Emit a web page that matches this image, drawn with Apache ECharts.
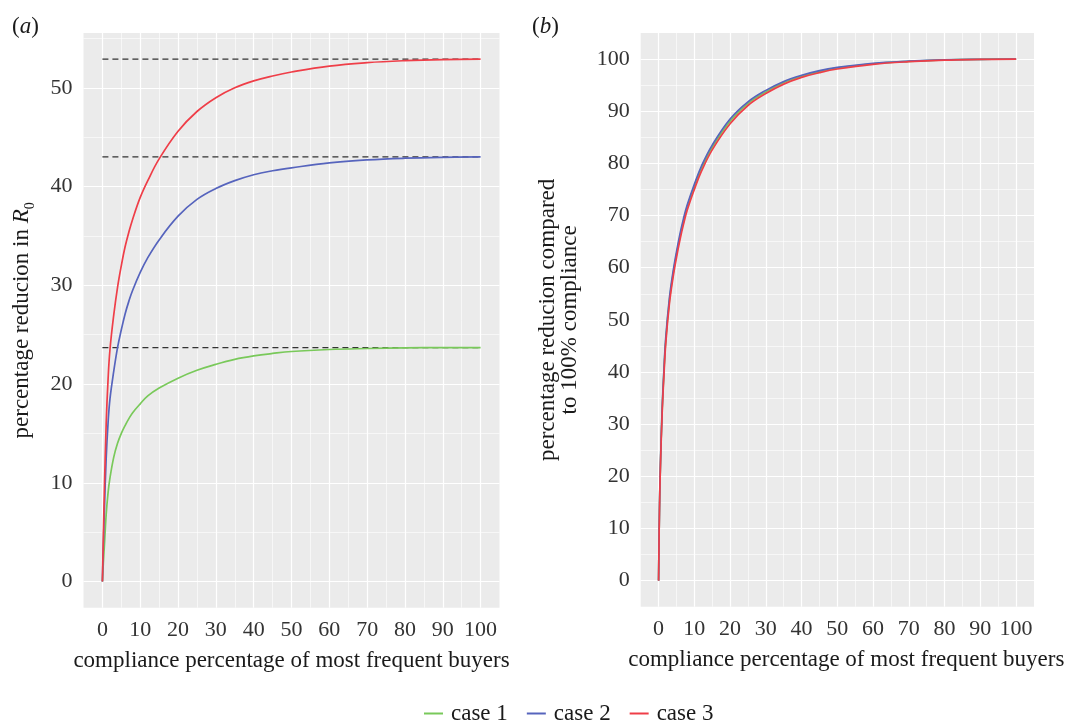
<!DOCTYPE html>
<html><head><meta charset="utf-8">
<script src="https://cdn.jsdelivr.net/npm/echarts@6/dist/echarts.min.js"></script>
<style>html,body{margin:0;padding:0;background:#fff}#c{width:1066px;height:720px}</style>
</head><body><div id="c"></div>
<script>
// ---- data ----
const xs = [0, 0.25, 0.5, 1, 1.5, 2, 3, 4, 5, 6, 7, 8, 10, 12, 15, 20, 25, 30, 35, 40, 45, 50, 60, 70, 80, 90, 100];
const caseNames = ['case 1', 'case 2', 'case 3'];
// panel (a): percentage reduction in R0
const aCase1 = [0, 1.9, 3.5, 6.8, 9.0, 10.5, 12.6, 14.0, 15.0, 15.8, 16.5, 17.1, 18.0, 18.8, 19.6, 20.6, 21.4, 22.0, 22.5, 22.85, 23.1, 23.3, 23.5, 23.6, 23.67, 23.7, 23.7];
const aCase2 = [0, 3.7, 6.9, 12.5, 16.1, 18.5, 21.3, 23.7, 25.5, 27.1, 28.4, 29.5, 31.3, 32.8, 34.6, 37.0, 38.7, 39.8, 40.6, 41.2, 41.6, 41.9, 42.4, 42.7, 42.87, 42.96, 43.0];
const aCase3 = [0, 4.7, 9.0, 16.0, 20.5, 23.5, 27.0, 29.8, 32.0, 33.9, 35.4, 36.7, 38.9, 40.6, 42.8, 45.6, 47.6, 49.0, 50.0, 50.7, 51.2, 51.6, 52.2, 52.55, 52.75, 52.86, 52.9];
const aMax = [23.7, 43.0, 52.9];
// panel (b): percentage reduction compared to 100% compliance
const bCase1 = [0, 13.8, 21.7, 32.6, 40.0, 46.0, 53.5, 58.5, 62.5, 66.0, 69.0, 71.6, 75.6, 79.1, 83.1, 88.1, 91.5, 93.7, 95.5, 96.7, 97.6, 98.3, 99.1, 99.55, 99.83, 99.95, 100];
const bCase2 = [0, 14.0, 22.0, 33.0, 40.5, 46.5, 54.0, 59.0, 63.0, 66.5, 69.5, 72.0, 76.0, 79.5, 83.5, 88.5, 91.8, 94.0, 95.7, 96.9, 97.8, 98.4, 99.2, 99.6, 99.85, 99.95, 100];
const bCase3 = [0, 13.5, 21.3, 32.1, 39.4, 45.4, 52.9, 57.9, 61.9, 65.4, 68.4, 71.0, 75.0, 78.5, 82.6, 87.6, 91.1, 93.4, 95.2, 96.5, 97.4, 98.1, 99.0, 99.5, 99.8, 99.93, 100];
// ticks / gridlines
const xTicks = [0, 10, 20, 30, 40, 50, 60, 70, 80, 90, 100];
const xMinor = [5, 15, 25, 35, 45, 55, 65, 75, 85, 95];
const yTicksA = [0, 10, 20, 30, 40, 50];
const yMinorA = [5, 15, 25, 35, 45, 55];
const yTicksB = [0, 10, 20, 30, 40, 50, 60, 70, 80, 90, 100];
const yMinorB = [5, 15, 25, 35, 45, 55, 65, 75, 85, 95];

// ---- styling ----
const FONT = '"Liberation Serif", "DejaVu Serif", serif';
const colors = ['#79c95a', '#5664bd', '#ef3e48'];
const tickColor = '#333333';
const titleColor = '#1a1a1a';

function pairs(arr) { return xs.map((x, i) => [x, arr[i]]); }

function gridSeries(idx, xMaj, xMin, yMaj, yMin) {
  const d = [];
  xMin.forEach(v => d.push({ xAxis: v, lineStyle: { width: 0.6 } }));
  yMin.forEach(v => d.push({ yAxis: v, lineStyle: { width: 0.6 } }));
  xMaj.forEach(v => d.push({ xAxis: v, lineStyle: { width: 1.2 } }));
  yMaj.forEach(v => d.push({ yAxis: v, lineStyle: { width: 1.2 } }));
  return {
    type: 'line', xAxisIndex: idx, yAxisIndex: idx, data: [], z: 1, silent: true,
    markLine: {
      silent: true, symbol: 'none', z: 1, animation: false,
      label: { show: false }, emphasis: { disabled: true },
      lineStyle: { color: '#ffffff', type: 'solid' },
      data: d
    }
  };
}

function xAxisCfg(idx, padLeft) {
  return {
    type: 'value', gridIndex: idx, min: -5, max: 105,
    axisLine: { show: false },
    axisTick: { show: true, customValues: xTicks, length: 4, lineStyle: { color: tickColor, width: 1 } },
    axisLabel: { customValues: xTicks, fontSize: 22, color: tickColor, fontFamily: FONT, margin: 12 },
    splitLine: { show: false },
    name: 'compliance percentage of most frequent buyers',
    nameLocation: 'middle', nameGap: 42,
    nameTextStyle: { fontSize: 23, color: titleColor, fontFamily: FONT, padding: [0, 0, 0, padLeft] }
  };
}

const series = [gridSeries(0, xTicks, xMinor, yTicksA, yMinorA), gridSeries(1, xTicks, xMinor, yTicksB, yMinorB)];
// dashed reference lines (panel a)
aMax.forEach(m => series.push({
  type: 'line', xAxisIndex: 0, yAxisIndex: 0, data: [[0, m], [100, m]], symbol: 'none', z: 2,
  lineStyle: { color: '#333333', width: 1.3, type: [6, 4] }, silent: true
}));
[aCase1, aCase2, aCase3].forEach((arr, i) => series.push({
  name: caseNames[i], type: 'line', xAxisIndex: 0, yAxisIndex: 0, data: pairs(arr),
  symbol: 'none', smooth: 0.4, z: 3,
  lineStyle: { color: colors[i], width: 1.7 }, itemStyle: { color: colors[i] }
}));
[bCase1, bCase2, bCase3].forEach((arr, i) => series.push({
  name: caseNames[i], type: 'line', xAxisIndex: 1, yAxisIndex: 1, data: pairs(arr),
  symbol: 'none', smooth: 0.4, z: 3,
  lineStyle: { color: colors[i], width: 1.7 }, itemStyle: { color: colors[i] }
}));

const option = {
  animation: false,
  backgroundColor: '#ffffff',
  textStyle: { fontFamily: FONT },
  grid: [
    { left: 83.5, top: 33, width: 416, height: 574.7, show: true, backgroundColor: '#ebebeb', borderWidth: 0, containLabel: false, outerBoundsMode: 'none' },
    { left: 640.7, top: 33, width: 393.3, height: 573.7, show: true, backgroundColor: '#ebebeb', borderWidth: 0, containLabel: false, outerBoundsMode: 'none' }
  ],
  xAxis: [xAxisCfg(0, 0), xAxisCfg(1, 18)],
  yAxis: [
    {
      type: 'value', gridIndex: 0, min: -2.645, max: 55.55,
      axisLine: { show: false },
      axisTick: { show: true, customValues: yTicksA, length: 4, lineStyle: { color: tickColor } },
      axisLabel: { customValues: yTicksA, fontSize: 22, color: tickColor, fontFamily: FONT, margin: 11 },
      splitLine: { show: false },
      name: '{n|percentage reducion in }{i|R}{s|0}',
      nameLocation: 'middle', nameGap: 46, nameRotate: 90,
      nameTextStyle: {
        color: titleColor, fontFamily: FONT,
        rich: {
          n: { fontSize: 23, fontFamily: FONT, color: titleColor, lineHeight: 32, verticalAlign: 'middle' },
          i: { fontSize: 23, fontFamily: FONT, fontStyle: 'italic', color: titleColor, lineHeight: 32, verticalAlign: 'middle' },
          s: { fontSize: 14, fontFamily: FONT, color: titleColor, lineHeight: 14, verticalAlign: 'bottom' }
        }
      }
    },
    {
      type: 'value', gridIndex: 1, min: -5, max: 105,
      axisLine: { show: false },
      axisTick: { show: true, customValues: yTicksB, length: 4, lineStyle: { color: tickColor } },
      axisLabel: { customValues: yTicksB, fontSize: 22, color: tickColor, fontFamily: FONT, margin: 11 },
      splitLine: { show: false },
      name: 'percentage reducion compared\nto 100% compliance',
      nameLocation: 'middle', nameGap: 60, nameRotate: 90,
      nameTextStyle: { fontSize: 23, color: titleColor, fontFamily: FONT, lineHeight: 22, align: 'center' }
    }
  ],
  legend: {
    data: caseNames, top: 697, left: 419,
    icon: 'rect', itemWidth: 19, itemHeight: 2, itemGap: 19,
    textStyle: { fontSize: 23, color: titleColor, fontFamily: FONT, padding: [0, 0, 0, 3] },
    selectedMode: false
  },
  graphic: [
    { type: 'text', left: 12, top: 15, style: { text: '{n|(}{i|a}{n|)}', rich: {
      n: { fontSize: 23, fontFamily: FONT, fill: titleColor }, i: { fontSize: 23, fontFamily: FONT, fontStyle: 'italic', fill: titleColor } } } },
    { type: 'text', left: 532, top: 15, style: { text: '{n|(}{i|b}{n|)}', rich: {
      n: { fontSize: 23, fontFamily: FONT, fill: titleColor }, i: { fontSize: 23, fontFamily: FONT, fontStyle: 'italic', fill: titleColor } } } }
  ],
  series: series
};
const chart = echarts.init(document.getElementById('c'), null, { renderer: 'canvas' });
chart.setOption(option);
</script>
</body></html>
